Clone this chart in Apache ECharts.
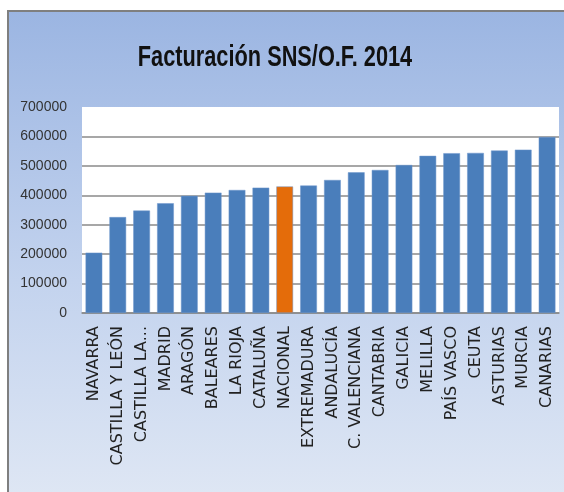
<!DOCTYPE html>
<html style="height: 100%">
<head>
<meta charset="utf-8"/>
<script type="text/javascript" src="https://cdn.jsdelivr.net/npm/echarts@6/dist/echarts.min.js"></script>
</head>
<body style="height: 100%; margin: 0; background: #ffffff">
<div id="container" style="width: 564px; height: 492px"></div>
<script type="text/javascript">
// regiones, ordenadas de menor a mayor
var regiones = ['NAVARRA', 'CASTILLA Y LEÓN', 'CASTILLA LA...', 'MADRID', 'ARAGÓN', 'BALEARES',
	'LA RIOJA', 'CATALUÑA', 'NACIONAL', 'EXTREMADURA', 'ANDALUCÍA', 'C. VALENCIANA',
	'CANTABRIA', 'GALICIA', 'MELILLA', 'PAÍS VASCO', 'CEUTA', 'ASTURIAS', 'MURCIA', 'CANARIAS'];
var facturacion = [205000, 326000, 348000, 373000, 398000, 409000,
	418000, 426000, 430000, 433000, 452000, 478000,
	486000, 503000, 534000, 543000, 544000, 552000, 555000, 598000];
var destacada = 'NACIONAL';
var ticksY = [0, 100000, 200000, 300000, 400000, 500000, 600000, 700000];

var container = document.getElementById('container');
var myChart = echarts.init(container);

var barData = [];
for (var i = 0; i < regiones.length; i++) {
	barData.push({
		value: facturacion[i],
		itemStyle: {color: regiones[i] == destacada ? '#e46c0a' : '#4a7ebb'}
	});
}

var option = {
	animation: false,
	graphic: [{
		type: 'rect',
		z: -10,
		shape: {x: 8, y: 11, width: 570, height: 490},
		style: {
			fill: new echarts.graphic.LinearGradient(0, 0, 0, 1, [
				{offset: 0, color: '#9bb5e2'},
				{offset: 0.55, color: '#c3d3ee'},
				{offset: 1, color: '#dfe7f4'}
			]),
			stroke: '#7f7f7f',
			lineWidth: 2
		}
	}, {
		// titulo estrecho, como Calibri
		type: 'text',
		x: 275,
		y: 58,
		scaleX: 0.75,
		style: {
			text: 'Facturación SNS/O.F. 2014',
			font: 'bold 29px "Liberation Sans", sans-serif',
			fill: '#111111',
			align: 'center',
			verticalAlign: 'middle'
		}
	}],
	grid: {
		left: 82,
		right: 5,
		top: 107,
		bottom: 179,
		show: true,
		backgroundColor: '#ffffff',
		borderWidth: 0
	},
	xAxis: {
		type: 'category',
		data: regiones,
		axisLine: {lineStyle: {color: '#8a8a8a', width: 1.5}},
		axisTick: {show: false},
		axisLabel: {
			interval: 0,
			rotate: 90,
			margin: 13,
			color: '#222222',
			fontFamily: 'DejaVu Sans',
			fontSize: 16
		}
	},
	yAxis: {
		type: 'value',
		min: ticksY[0],
		max: ticksY[ticksY.length - 1],
		interval: ticksY[1] - ticksY[0],
		axisLine: {show: false},
		axisTick: {show: false},
		splitLine: {showMaxLine: false, lineStyle: {color: '#8a8a8a', width: 1.5}},
		axisLabel: {
			margin: 15,
			color: '#333333',
			fontFamily: 'Liberation Sans',
			fontSize: 14,
			formatter: function (v) { return String(v); }
		}
	},
	series: [{
		type: 'bar',
		data: barData,
		barCategoryGap: '30%',
		itemStyle: {borderColor: '#6f97cc', borderWidth: 0.5}
	}]
};

myChart.setOption(option);
</script>
</body>
</html>
